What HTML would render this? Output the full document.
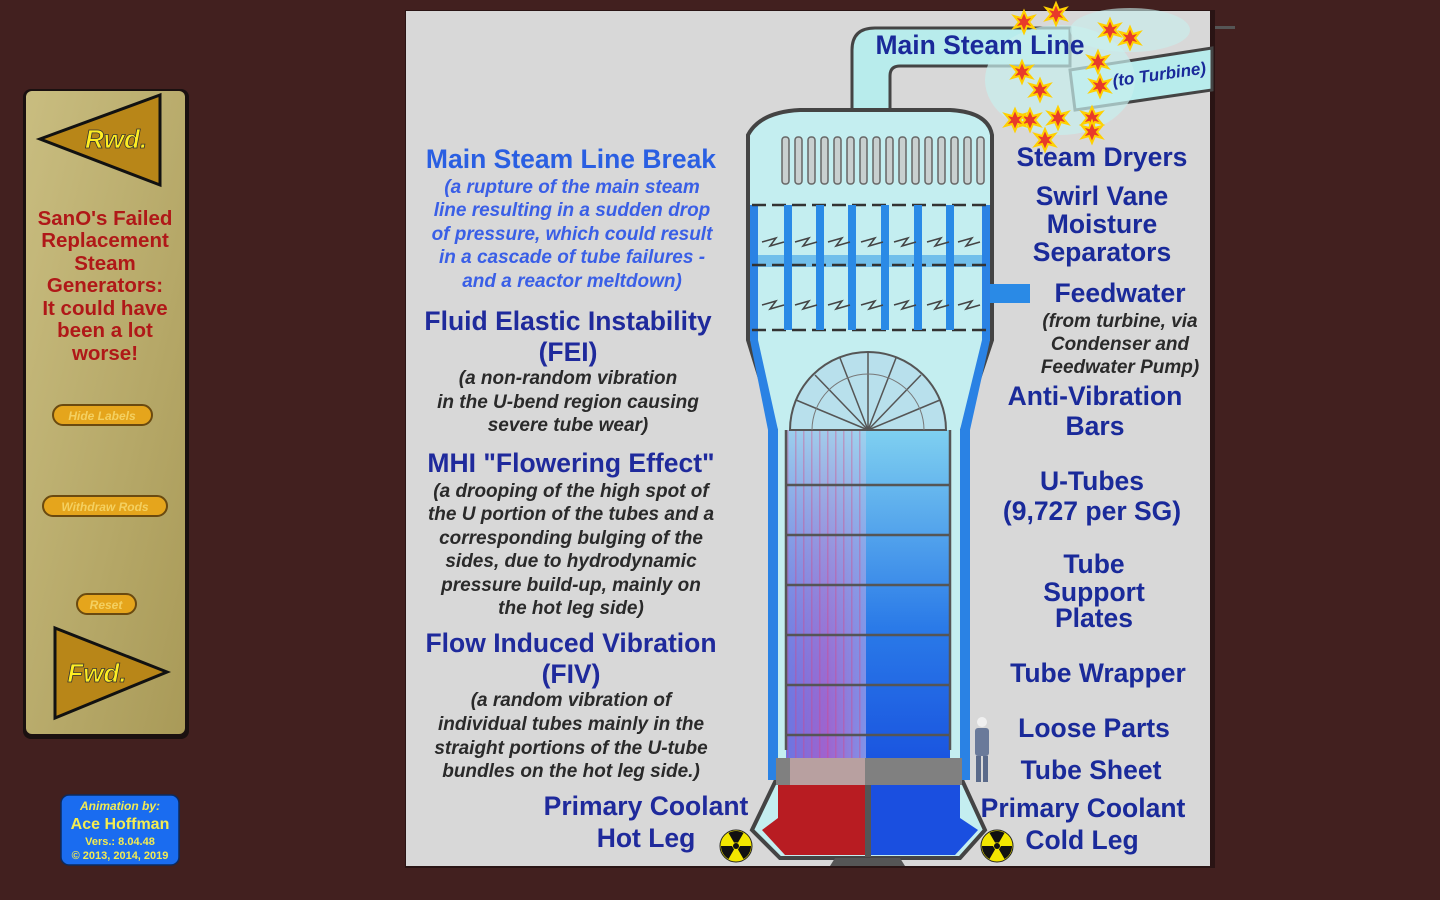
<!DOCTYPE html>
<html><head><meta charset="utf-8"><style>
html,body{margin:0;padding:0;background:#42201f;width:1440px;height:900px;overflow:hidden}
svg{display:block}
text{font-family:"Liberation Sans",sans-serif;font-weight:bold}
.l{fill:#2a5fe2;font-size:26.5px}
.li{fill:#3a5fe6;font-size:19px;font-style:italic}
.d{fill:#1f2a9c;font-size:26.5px}
.di{fill:#2a2a2a;font-size:19px;font-style:italic}
.r{fill:#1a2a9a;font-size:26.5px}
</style></head><body>
<svg width="1440" height="900" viewBox="0 0 1440 900">
<defs>
<linearGradient id="tan" x1="0" y1="0" x2="1" y2="1"><stop offset="0" stop-color="#c9bd80"/><stop offset="1" stop-color="#a99a58"/></linearGradient>
<linearGradient id="hot" x1="0" y1="0" x2="1" y2="0"><stop offset="0" stop-color="#6f8fe8"/><stop offset="0.5" stop-color="#c070c8"/><stop offset="1" stop-color="#8fb8f0"/></linearGradient>
<linearGradient id="hotv" x1="0" y1="0" x2="0" y2="1"><stop offset="0" stop-color="#9fd6ee" stop-opacity="0.9"/><stop offset="1" stop-color="#5a40d8" stop-opacity="0.3"/></linearGradient>
<linearGradient id="cold" x1="0" y1="0" x2="0" y2="1"><stop offset="0" stop-color="#7fd0f0"/><stop offset="0.6" stop-color="#2a7ae8"/><stop offset="1" stop-color="#1a55e0"/></linearGradient>
<pattern id="tubes" width="8" height="10" patternUnits="userSpaceOnUse"><rect width="8" height="10" fill="none"/><rect x="3" width="1.5" height="10" fill="#e0407a" opacity="0.35"/></pattern>
<g id="rad"><circle r="16" fill="#f2e600" stroke="#222" stroke-width="1"/><circle r="3" fill="#111"/><g fill="#111"><path d="M0,-4 L0,-15 A15,15 0 0 1 13,-7.5 L3.5,-2Z" transform="rotate(-30)"/><path d="M0,-4 L0,-15 A15,15 0 0 1 13,-7.5 L3.5,-2Z" transform="rotate(90)"/><path d="M0,-4 L0,-15 A15,15 0 0 1 13,-7.5 L3.5,-2Z" transform="rotate(210)"/></g></g>
<polygon id="star" points="0,-11 3,-4 10,-6 5,0 10,6 3,4 0,11 -3,4 -10,6 -5,0 -10,-6 -3,-4" fill="#e83a2a" stroke="#ffd000" stroke-width="2"/>
</defs>

<!-- left panel -->
<rect x="23" y="89" width="166" height="650" rx="8" fill="#1a1010"/>
<rect x="26" y="91" width="159" height="643" rx="6" fill="url(#tan)"/>
<polygon points="40,139 160,95 160,185" fill="#b88618" stroke="#111" stroke-width="3"/>
<text x="116" y="148" font-size="26" fill="#ffee22" font-style="italic" text-anchor="middle" stroke="#333" stroke-width="0.8">Rwd.</text>
<polygon points="55,628 167,672 55,718" fill="#b88618" stroke="#111" stroke-width="3"/>
<text x="97" y="682" font-size="26" fill="#ffee22" font-style="italic" text-anchor="middle" stroke="#333" stroke-width="0.8">Fwd.</text>
<g fill="#b01818" font-size="20.5" text-anchor="middle">
<text x="105" y="225">SanO's Failed</text><text x="105" y="247">Replacement</text><text x="105" y="270">Steam</text><text x="105" y="292">Generators:</text><text x="105" y="315">It could have</text><text x="105" y="337">been a lot</text><text x="105" y="360">worse!</text></g>
<g stroke="#6a4a10" stroke-width="2" fill="#e5a51c">
<rect x="53" y="405" width="99" height="20" rx="10"/><rect x="43" y="496" width="124" height="20" rx="10"/><rect x="77" y="594" width="59" height="20" rx="10"/></g>
<g font-size="12" fill="#f4d060" font-style="italic" text-anchor="middle" font-weight="normal">
<text x="102" y="420">Hide Labels</text><text x="105" y="511">Withdraw Rods</text><text x="106" y="609">Reset</text></g>
<rect x="61" y="795" width="118" height="70" rx="8" fill="#1a6cf0" stroke="#0a2a60" stroke-width="1.5"/>
<g fill="#f4ec50" text-anchor="middle"><text x="120" y="810" font-size="12" font-style="italic">Animation by:</text><text x="120" y="829" font-size="16">Ace Hoffman</text><text x="120" y="845" font-size="11">Vers.: 8.04.48</text><text x="120" y="859" font-size="11">© 2013, 2014, 2019</text></g>

<!-- main panel -->
<rect x="405" y="10" width="810" height="858" fill="#2a1414"/>
<rect x="406" y="11" width="804" height="855" fill="#d8d8d8"/>

<path d="M852,125 L852,50 Q852,28 875,28 L1070,28 L1070,66 L900,66 Q890,66 890,76 L890,125 Z" fill="#b8ecec" stroke="#444" stroke-width="3"/>
<path d="M1070,70 L1212,48 L1212,90 L1075,110 Z" fill="#b8ecec" stroke="#444" stroke-width="3"/>
<ellipse cx="1060" cy="80" rx="75" ry="55" fill="#c8f0ee" opacity="0.7"/>
<ellipse cx="1130" cy="30" rx="60" ry="22" fill="#c8f0ee" opacity="0.6"/>
<path d="M748,135 Q760,112 800,110 L950,110 Q988,112 992,135 L992,340 L962,430 L962,780 L985,830 L960,858 L780,858 L752,830 L776,780 L776,430 L748,340 Z" fill="#c4eef0" stroke="#444" stroke-width="4"/>
<path d="M750,205 L758,205 L758,340 L778,430 L778,780 L768,780 L768,430 L750,340 Z" fill="#2a82e4"/>
<path d="M990,205 L982,205 L982,340 L960,430 L960,780 L970,780 L970,430 L990,340 Z" fill="#2a82e4"/>
<rect x="990" y="284" width="40" height="19" fill="#2a8ae6"/>
<g fill="#c8d0d0" stroke="#666" stroke-width="1.5">
<rect x="782" y="137" width="7" height="47" rx="3"/><rect x="795" y="137" width="7" height="47" rx="3"/><rect x="808" y="137" width="7" height="47" rx="3"/><rect x="821" y="137" width="7" height="47" rx="3"/><rect x="834" y="137" width="7" height="47" rx="3"/><rect x="847" y="137" width="7" height="47" rx="3"/><rect x="860" y="137" width="7" height="47" rx="3"/><rect x="873" y="137" width="7" height="47" rx="3"/><rect x="886" y="137" width="7" height="47" rx="3"/><rect x="899" y="137" width="7" height="47" rx="3"/><rect x="912" y="137" width="7" height="47" rx="3"/><rect x="925" y="137" width="7" height="47" rx="3"/><rect x="938" y="137" width="7" height="47" rx="3"/><rect x="951" y="137" width="7" height="47" rx="3"/><rect x="964" y="137" width="7" height="47" rx="3"/><rect x="977" y="137" width="7" height="47" rx="3"/></g>
<rect x="758" y="255" width="224" height="12" fill="#3aa0e8" opacity="0.6"/>
<g stroke="#333" stroke-width="2.5" stroke-dasharray="14,6"><line x1="752" y1="205" x2="988" y2="205"/><line x1="752" y1="265" x2="988" y2="265"/><line x1="752" y1="330" x2="988" y2="330"/></g>
<g fill="#2a8ae6"><rect x="784" y="205" width="8" height="125"/><rect x="816" y="205" width="8" height="125"/><rect x="848" y="205" width="8" height="125"/><rect x="881" y="205" width="8" height="125"/><rect x="914" y="205" width="8" height="125"/><rect x="946" y="205" width="8" height="125"/></g>
<g stroke="#444" stroke-width="1.5" fill="none"><path d="M762,242 l14,-4 l-6,8 l14,-4 M795,242 l14,-4 l-6,8 l14,-4 M828,242 l14,-4 l-6,8 l14,-4 M861,242 l14,-4 l-6,8 l14,-4 M894,242 l14,-4 l-6,8 l14,-4 M927,242 l14,-4 l-6,8 l14,-4 M958,242 l14,-4 l-6,8 l14,-4"/><path d="M762,305 l14,-4 l-6,8 l14,-4 M795,305 l14,-4 l-6,8 l14,-4 M828,305 l14,-4 l-6,8 l14,-4 M861,305 l14,-4 l-6,8 l14,-4 M894,305 l14,-4 l-6,8 l14,-4 M927,305 l14,-4 l-6,8 l14,-4 M958,305 l14,-4 l-6,8 l14,-4"/></g>
<rect x="786" y="430" width="80" height="330" fill="url(#hot)"/>
<rect x="786" y="430" width="80" height="330" fill="url(#hotv)"/>
<rect x="786" y="430" width="80" height="330" fill="url(#tubes)"/>
<rect x="866" y="430" width="84" height="330" fill="url(#cold)"/>
<path d="M790,430 A78,78 0 0 1 946,430 Z" fill="#b8e0ec" stroke="#555" stroke-width="2"/>
<g stroke="#555" stroke-width="1.5"><line x1="868" y1="430" x2="868" y2="352"/><line x1="868" y1="430" x2="796" y2="400"/><line x1="868" y1="430" x2="815" y2="375"/><line x1="868" y1="430" x2="840" y2="358"/><line x1="868" y1="430" x2="896" y2="358"/><line x1="868" y1="430" x2="921" y2="375"/><line x1="868" y1="430" x2="940" y2="400"/></g>
<path d="M812,430 A56,56 0 0 1 924,430" fill="none" stroke="#777" stroke-width="1"/>
<g stroke="#555" stroke-width="2.5"><line x1="786" y1="485" x2="950" y2="485"/><line x1="786" y1="535" x2="950" y2="535"/><line x1="786" y1="585" x2="950" y2="585"/><line x1="786" y1="635" x2="950" y2="635"/><line x1="786" y1="685" x2="950" y2="685"/><line x1="786" y1="735" x2="950" y2="735"/><line x1="786" y1="430" x2="786" y2="750"/><line x1="950" y1="430" x2="950" y2="750"/></g>
<rect x="776" y="758" width="186" height="27" fill="#808080"/>
<rect x="790" y="758" width="75" height="27" fill="#b8a0a0"/>
<path d="M778,785 L865,785 L865,855 L785,855 L762,830 L778,818 Z" fill="#b81c22"/>
<path d="M871,785 L960,785 L960,818 L978,830 L955,855 L871,855 Z" fill="#1a4fe0"/>
<rect x="865" y="785" width="6" height="72" fill="#555"/>
<path d="M835,858 L900,858 L905,866 L830,866 Z" fill="#555"/>
<use href="#star" x="1024" y="22"/><use href="#star" x="1056" y="14"/><use href="#star" x="1110" y="30"/><use href="#star" x="1130" y="38"/><use href="#star" x="1022" y="72"/><use href="#star" x="1040" y="90"/><use href="#star" x="1098" y="62"/><use href="#star" x="1100" y="86"/><use href="#star" x="1030" y="120"/><use href="#star" x="1058" y="118"/><use href="#star" x="1015" y="120"/><use href="#star" x="1045" y="140"/><use href="#star" x="1092" y="118"/><use href="#star" x="1092" y="132"/>

<use href="#rad" x="736" y="846"/><use href="#rad" x="997" y="846"/>
<circle cx="982" cy="722" r="5" fill="#f0f0f0"/><rect x="975" y="728" width="14" height="28" rx="3" fill="#6a7a9a"/><rect x="976" y="756" width="5" height="26" fill="#5a6a8a"/><rect x="983" y="756" width="5" height="26" fill="#5a6a8a"/>

<g text-anchor="middle">
<text class="l" x="571" y="168">Main Steam Line Break</text>
<text class="li" x="572" y="193">(a rupture of  the main steam</text>
<text class="li" x="572" y="216">line resulting in a sudden drop</text>
<text class="li" x="572" y="240">of pressure, which could result</text>
<text class="li" x="572" y="263">in a cascade of tube failures -</text>
<text class="li" x="572" y="287">and a reactor meltdown)</text>
<text class="d" x="568" y="330">Fluid Elastic Instability</text>
<text class="d" x="568" y="361">(FEI)</text>
<text class="di" x="568" y="384">(a non-random vibration</text>
<text class="di" x="568" y="408">in the U-bend region causing</text>
<text class="di" x="568" y="431">severe tube wear)</text>
<text class="d" x="571" y="472">MHI "Flowering Effect"</text>
<text class="di" x="571" y="497">(a drooping of the high spot of</text>
<text class="di" x="571" y="520">the U portion of the tubes and a</text>
<text class="di" x="571" y="544">corresponding bulging of the</text>
<text class="di" x="571" y="567">sides, due to hydrodynamic</text>
<text class="di" x="571" y="591">pressure build-up, mainly on</text>
<text class="di" x="571" y="614">the hot leg side)</text>
<text class="d" x="571" y="652">Flow Induced Vibration</text>
<text class="d" x="571" y="683">(FIV)</text>
<text class="di" x="571" y="706">(a random vibration of</text>
<text class="di" x="571" y="730">individual tubes mainly in the</text>
<text class="di" x="571" y="754">straight portions of the U-tube</text>
<text class="di" x="571" y="777">bundles on the hot leg side.)</text>
<text class="d" x="646" y="815">Primary Coolant</text>
<text class="d" x="646" y="847">Hot Leg</text>
<text class="r" x="980" y="54" font-size="25.5">Main Steam Line</text>
<text x="1160" y="80" font-size="17" font-style="italic" fill="#1a2a9a" transform="rotate(-8 1160 80)">(to Turbine)</text>
<text class="r" x="1102" y="166">Steam Dryers</text>
<text class="r" x="1102" y="205">Swirl Vane</text>
<text class="r" x="1102" y="233">Moisture</text>
<text class="r" x="1102" y="261">Separators</text>
<text class="r" x="1120" y="302">Feedwater</text>
<text class="di" x="1120" y="327">(from turbine, via</text>
<text class="di" x="1120" y="350">Condenser and</text>
<text class="di" x="1120" y="373">Feedwater Pump)</text>
<text class="r" x="1095" y="405">Anti-Vibration</text>
<text class="r" x="1095" y="435">Bars</text>
<text class="r" x="1092" y="490">U-Tubes</text>
<text class="r" x="1092" y="520">(9,727 per SG)</text>
<text class="r" x="1094" y="573">Tube</text>
<text class="r" x="1094" y="601">Support</text>
<text class="r" x="1094" y="627">Plates</text>
<text class="r" x="1098" y="682">Tube Wrapper</text>
<text class="r" x="1094" y="737">Loose Parts</text>
<text class="r" x="1091" y="779">Tube Sheet</text>
<text class="r" x="1083" y="817">Primary Coolant</text>
<text class="r" x="1082" y="849">Cold Leg</text>
</g>
<rect x="1215" y="26" width="20" height="3" fill="#555"/>
</svg>
</body></html>
